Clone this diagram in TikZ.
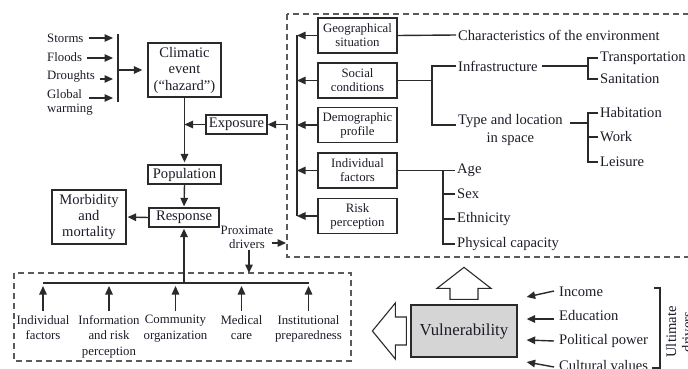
\documentclass[tikz,border=0pt]{standalone}
\usepackage{fontspec}
\setmainfont{Liberation Serif}
\usetikzlibrary{arrows.meta,calc}
\definecolor{ink}{HTML}{1C1C28}
\definecolor{lin}{HTML}{2A2A2A}
\definecolor{dsh}{HTML}{5A5A5A}
\definecolor{vfill}{HTML}{D5D5D5}
\newcommand{\fmain}{\fontsize{14.6}{16}\selectfont}
\newcommand{\fsmall}{\fontsize{12.8}{14}\selectfont}
\begin{document}
\begin{tikzpicture}[x=1pt,y=-1pt,
  every node/.style={text=ink},
  box/.style={draw=lin,line width=1.3pt,align=center,inner sep=0pt,font=\fmain},
  sbox/.style={draw=lin,line width=1.3pt,align=center,inner sep=0pt,font=\fsmall,minimum width=79pt,minimum height=35pt},
  lbl/.style={anchor=west,inner sep=2pt,font=\fmain},
  sl/.style={inner sep=1pt,font=\fsmall,align=center},
  ln/.style={draw=lin,line width=1.4pt},
  arr/.style={ln,-{Triangle[length=8.5pt,width=7.5pt]}},
  dbox/.style={draw=dsh,line width=1.6pt,dash pattern=on 6pt off 4pt},
  blk/.style={draw=lin,line width=1.1pt,fill=white,line join=miter},
]
\clip (0,0) rectangle (688,369);
% ---------- left column ----------
\node[box,minimum width=73pt,minimum height=54pt,font=\fontsize{14.6}{16.5}\selectfont] (clim) at (184.5,70) {Climatic\\event\\(“hazard”)};
\node[box,minimum width=73pt,minimum height=19pt] (pop) at (184.5,174.5) {Population};
\node[box,minimum width=70pt,minimum height=19pt] (resp) at (184,217.5) {Response};
\node[box,minimum width=61pt,minimum height=19pt] (expo) at (236.5,124.5) {Exposure};
\node[box,minimum width=74pt,minimum height=54pt,font=\fontsize{14.6}{16}\selectfont] (morb) at (89,217) {Morbidity\\and\\mortality};

\node[sl,anchor=west] (storms) at (46,38) {Storms};
\node[sl,anchor=west] (floods) at (46,57) {Floods};
\node[sl,anchor=west] (droughts) at (46,76) {Droughts};
\node[sl,anchor=west,align=left] (glob) at (46,102) {Global\\warming};
\coordinate (bt) at (118,34);
\coordinate (bb) at (118,102);
\coordinate (bm) at (118,70);
\draw[ln] (bt) -- (bb);
\draw[arr] ([xshift=4pt]storms.east) coordinate (s0) -- ([xshift=-5pt]s0 -| bt);
\draw[arr] ([shift={(4pt,-1pt)}]floods.east) coordinate (f0) -- ([xshift=-5pt]f0 -| bt);
\draw[arr] ([shift={(4pt,-3pt)}]droughts.east) coordinate (d0) -- ([xshift=-5pt]d0 -| bt);
\draw[arr] ([shift={(43pt,4pt)}]glob.west) coordinate (g0) -- ([xshift=-5pt]g0 -| bt);
\draw[arr,shorten >=5pt] (bm) -- (clim.west);

\coordinate (rnw) at (287,14);
\draw[arr,shorten >=2pt] (clim.south) -- (pop.north);
\draw[arr] (expo.west) -- (expo.west -| clim.south);
\draw[arr] (expo.east -| rnw) -- (expo.east);
\draw[arr,shorten >=1pt] (pop.south) -- (resp.north);
\draw[arr,shorten >=1pt] (resp.west) -- (morb.east);

% ---------- bottom dashed box ----------
\coordinate (bnw) at (14,273);
\coordinate (bse) at (351,361);
\draw[dbox] (bnw) rectangle (bse);
\begin{scope}[every node/.append style={sl,anchor=north,font=\fontsize{12.8}{15.5}\selectfont}]
\node (bi) at (43,314) {Individual\\factors};
\node (binf) at (109,314) {Information\\and risk\\perception};
\node (bcom) at (175.5,314) {Community\\organization};
\node (bmed) at (241.5,314) {Medical\\care};
\node (binst) at (308.5,314) {Institutional\\preparedness};
\end{scope}
\coordinate (hl) at (43,283);
\draw[ln] (bi.north |- hl) -- (binst.north |- hl);
\foreach \n in {bi,binf,bcom,bmed,binst}
  \draw[arr,shorten >=3pt] ([yshift=3pt]\n.north) -- (\n.north |- hl);
\draw[arr,shorten >=1pt] (resp.south |- hl) -- (resp.south);

\node[sl,font=\fontsize{12.8}{14}\selectfont] (prox) at (247,237) {Proximate\\drivers};
\draw[arr,shorten >=1pt] ([shift={(-3pt,-6pt)}]prox.east) coordinate (p0) -- (p0 -| rnw);
\draw[arr] ([xshift=2pt]prox.south) -- ([xshift=2pt]prox.south |- bnw);

% ---------- right dashed box ----------
\draw[dbox] (rnw) rectangle (730,257);
\node[sbox] (geo) at (357.5,35.5) {Geographical\\situation};
\node[sbox] (soc) at (357.5,80.5) {Social\\conditions};
\node[sbox] (demo) at (357.5,125) {Demographic\\profile};
\node[sbox] (indf) at (357.5,170.5) {Individual\\factors};
\node[sbox] (risk) at (357.5,216) {Risk\\perception};
\coordinate (sp) at (297,0);
\draw[ln] (geo.west -| sp) -- (risk.west -| sp);
\foreach \n in {geo,soc,demo,indf,risk}
  \draw[arr] (\n.west) -- (\n.west -| sp);

\node[lbl] (charenv) at (456,35) {Characteristics of the environment};
\draw[ln] (geo.east) -- (charenv.west);

\node[lbl] (infra) at (456,66) {Infrastructure};
\node[lbl,align=center,font=\fontsize{14.6}{18}\selectfont] (tl) at (456,130) {Type and location\\in space};
\coordinate (sj) at (432,0);
\coordinate (tlw) at ([yshift=5pt]tl.west);
\draw[ln] (soc.east) -- (soc.east -| sj);
\draw[ln] (infra.west) -- (infra.west -| sj) -- (tlw -| sj) -- (tlw);

\coordinate (ib) at (588,0);
\node[lbl] (trans) at (598,58) {Transportation};
\node[lbl] (sanit) at (598,79) {Sanitation};
\draw[ln] ([xshift=2pt]infra.east) -- (infra.east -| ib);
\draw[ln] (trans.west) -- (trans.west -| ib) -- (sanit.west -| ib) -- (sanit.west);

\node[lbl] (hab) at (598,113) {Habitation};
\node[lbl] (work) at (598,137) {Work};
\node[lbl] (leis) at (598,162) {Leisure};
\coordinate (tle) at ([shift={(5pt,7pt)}]tl.east);
\draw[ln] (tle) -- (tle -| ib);
\draw[ln] (hab.west) -- (hab.west -| ib) -- (leis.west -| ib) -- (leis.west);
\draw[ln] (work.west) -- (work.west -| ib);

\coordinate (ij) at (443,0);
\node[lbl] (age) at (455,170.5) {Age};
\node[lbl] (sex) at (455,194) {Sex};
\node[lbl] (eth) at (455,219) {Ethnicity};
\node[lbl] (phys) at (455,244) {Physical capacity};
\draw[ln] (indf.east) -- (indf.east -| ij);
\draw[ln] (age.west) -- (age.west -| ij) -- (phys.west -| ij) -- (phys.west);
\draw[ln] (sex.west) -- (sex.west -| ij);
\draw[ln] (eth.west) -- (eth.west -| ij);

% ---------- vulnerability ----------
\node[draw=lin,line width=1.3pt,fill=vfill,minimum width=106pt,minimum height=52pt,inner sep=0pt,font=\fontsize{16.8}{18}\selectfont] (vuln) at (464,331) {Vulnerability};
\draw[blk] ($(vuln.north)+(-14,-5)$) -- ++(0,-11) -- ++(-13,0) -- ($(vuln.north)+(0,-37)$) -- ($(vuln.north)+(27,-16)$) -- ++(-13,0) -- ++(0,11) -- cycle;
\draw[blk] ($(vuln.west)+(-4,-14)$) -- ++(-11,0) -- ++(0,-14) -- ($(vuln.west)+(-38,0)$) -- ($(vuln.west)+(-15,28)$) -- ++(0,-14) -- ++(11,0) -- cycle;

\node[lbl] (inc) at (557,292) {Income};
\node[lbl] (edu) at (557,316) {Education};
\node[lbl] (pol) at (557,341) {Political power};
\node[lbl] (cult) at (557,366) {Cultural values};
\draw[arr] ([shift={(-3pt,1pt)}]inc.west) -- ($(vuln.east)+(9,-34)$);
\draw[arr] ([shift={(-3pt,-3pt)}]edu.west) -- ($(vuln.east)+(9,-12)$);
\draw[arr] ([shift={(-3pt,0pt)}]pol.west) -- ($(vuln.east)+(9,9)$);
\draw[arr] ([shift={(-3pt,-1pt)}]cult.west) -- ($(vuln.east)+(9,31)$);

\coordinate (brt) at (660,288);
\coordinate (brb) at (660,368);
\draw[ln] ($(brt)+(-6,0)$) -- (brt) -- (brb) -- ++(-8,0);
\node[rotate=90,align=center,font=\fmain,inner sep=0pt] (ult) at (679,332) {Ultimate\\drivers};
\end{tikzpicture}
\end{document}
